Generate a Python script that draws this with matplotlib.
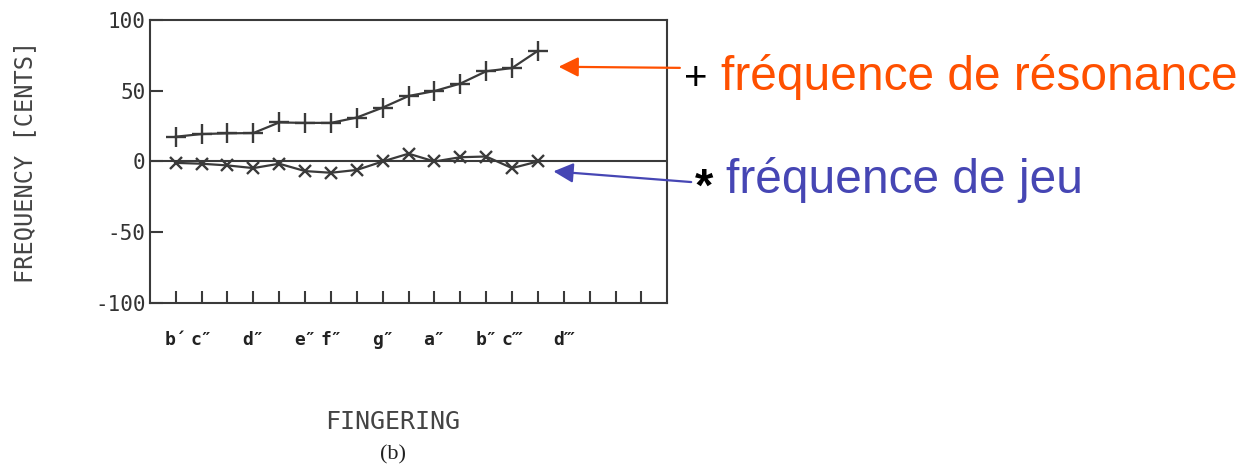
import numpy as np
import matplotlib
matplotlib.use("Agg")
import matplotlib.pyplot as plt
from matplotlib.ticker import FixedLocator, NullFormatter, FixedFormatter

# fingering positions (chromatic steps from b')
steps = np.arange(1, 16)
# resonance frequency deviation (cents) - "+" curve
resonance = [17.5, 19.4, 19.9, 20.1, 27.6, 27.3, 27.3, 31.1, 38.1, 46.3, 49.8, 55.1, 63.8, 66.1, 78.3]
# playing frequency deviation (cents) - "x" curve
playing = [-1.0, -1.6, -2.8, -4.7, -1.6, -6.8, -8.0, -6.0, 0.0, 5.5, 0.0, 3.0, 3.5, -4.7, 0.0]

note_pos = [1, 2, 4, 6, 7, 9, 11, 13, 14, 16]
note_labels = ["b\u00b4", "c\u2033", "d\u2033", "e\u2033", "f\u2033", "g\u2033", "a\u2033", "b\u2033", "c\u2034", "d\u2034"]
yticks = [-100, -50, 0, 50, 100]

ink = "#3a3a3a"
mono = "DejaVu Sans Mono"

fig = plt.figure(figsize=(12.59, 4.68), dpi=100)
ax = fig.add_axes([0.119, 0.353, 0.411, 0.604])

ax.axhline(0, color=ink, lw=1.5)
ax.plot(steps, resonance, color=ink, lw=1.6, marker="+", ms=14, mew=1.7)
ax.plot(steps, playing, color=ink, lw=1.6, marker="x", ms=9, mew=1.7)

ax.set_xlim(0, 20)
ax.set_ylim(-100, 100)
ax.set_yticks(yticks)
ax.set_yticklabels([str(v) for v in yticks])
ax.xaxis.remove_overlapping_locs = False
ax.xaxis.set_major_locator(FixedLocator(range(1, 20)))
ax.xaxis.set_major_formatter(NullFormatter())
ax.xaxis.set_minor_locator(FixedLocator(note_pos))
ax.xaxis.set_minor_formatter(FixedFormatter(note_labels))
ax.tick_params(axis="x", which="major", direction="in", length=9, width=1.5, color=ink)
ax.tick_params(axis="x", which="minor", length=0, pad=20, labelsize=13, labelcolor="#222")
ax.tick_params(axis="y", direction="in", length=9, width=1.5, color=ink, pad=3,
               labelsize=15, labelcolor="#333")
for lab in ax.get_xticklabels(minor=True):
    lab.set_family(mono)
    lab.set_fontweight("bold")
for lab in ax.get_yticklabels():
    lab.set_family(mono)
for s in ax.spines.values():
    s.set_color(ink)
    s.set_linewidth(1.5)

fig.text(0.02, 0.655, "FREQUENCY [CENTS]", rotation=90, ha="center", va="center",
         family=mono, fontsize=17, color="#444")
fig.text(0.312, 0.098, "FINGERING", ha="center", va="center", family=mono, fontsize=18, color="#444")
fig.text(0.312, 0.028, "(b)", ha="center", va="center", family="Liberation Serif", fontsize=16, color="#222")

orange = "#ff5000"
blue = "#4646b4"
ax.annotate("", xy=(15.8, 67), xycoords="data", xytext=(0.540, 0.855), textcoords="figure fraction",
            arrowprops=dict(arrowstyle="-|>", color=orange, lw=1.6, mutation_scale=30, shrinkA=0, shrinkB=0))
ax.annotate("", xy=(15.6, -7), xycoords="data", xytext=(0.549, 0.611), textcoords="figure fraction",
            arrowprops=dict(arrowstyle="-|>", color=blue, lw=1.6, mutation_scale=30, shrinkA=0, shrinkB=0))

fig.text(0.543, 0.808, "+", ha="left", va="baseline", family="Liberation Sans", fontsize=29, color="black")
fig.text(0.573, 0.808, "fréquence de résonance", ha="left", va="baseline", family="Liberation Sans",
         fontsize=34.5, color=orange)
fig.text(0.552, 0.572, "*", ha="left", va="baseline", family="Liberation Sans", fontsize=34,
         fontweight="bold", color="black")
fig.text(0.577, 0.588, "fréquence de jeu", ha="left", va="baseline", family="Liberation Sans",
         fontsize=34.5, color=blue)

fig.savefig("out.png", dpi=100, facecolor="white")
